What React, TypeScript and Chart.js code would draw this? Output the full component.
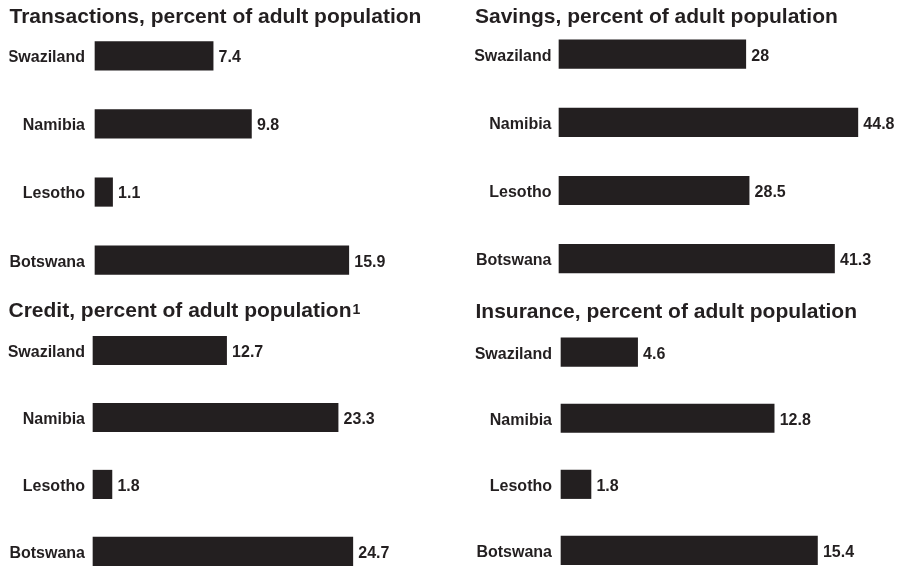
import React, { useEffect, useRef } from 'react';
import { Chart, registerables } from 'chart.js';

Chart.register(...registerables);

const countries = ['Swaziland', 'Namibia', 'Lesotho', 'Botswana'];
const transactions = [7.4, 9.8, 1.1, 15.9];
const savings = [28, 44.8, 28.5, 41.3];
const credit = [12.7, 23.3, 1.8, 24.7];
const insurance = [4.6, 12.8, 1.8, 15.4];

const titleTransactions = 'Transactions, percent of adult population';
const titleSavings = 'Savings, percent of adult population';
const titleCredit = 'Credit, percent of adult population';
const titleCreditNote = '1';
const titleInsurance = 'Insurance, percent of adult population';

const INK = '#231f20';
const FONT = "'Liberation Sans', Arial, Helvetica, sans-serif";

const valueLabels = {
  id: 'valueLabels',
  afterDatasetsDraw(chart: any) {
    const ctx = chart.ctx;
    const meta = chart.getDatasetMeta(0);
    const data = chart.data.datasets[0].data;
    ctx.save();
    ctx.font = `bold 16px ${FONT}`;
    ctx.fillStyle = INK;
    ctx.textAlign = 'left';
    ctx.textBaseline = 'middle';
    meta.data.forEach((bar: any, i: number) => {
      ctx.fillText(String(data[i]), bar.x + 5.5, bar.y + 2);
    });
    ctx.restore();
  },
};

const titleNote = {
  id: 'titleNote',
  afterDraw(chart: any, _args: any, opts: any) {
    if (!opts || !opts.text) return;
    const t = chart.titleBlock;
    const to = chart.options.plugins.title;
    const ctx = chart.ctx;
    ctx.save();
    ctx.font = `bold 21px ${FONT}`;
    const w = ctx.measureText(to.text).width;
    const lineH = 21 * 1.2;
    const mid = t.top + to.padding.top + lineH / 2;
    ctx.font = `bold 14px ${FONT}`;
    ctx.fillStyle = INK;
    ctx.textAlign = 'left';
    ctx.textBaseline = 'alphabetic';
    ctx.fillText(opts.text, t.left + w + 1, mid + 3);
    ctx.restore();
  },
};

type PanelProps = {
  left: number;
  top: number;
  width: number;
  height: number;
  title: string;
  note?: string;
  values: number[];
  xMax: number;
  padL: number;
  padR: number;
  padB: number;
  axisW: number;
  tickPad: number;
  titleTop: number;
  titleBottom: number;
};

function Panel(p: PanelProps) {
  const ref = useRef<HTMLCanvasElement>(null);
  useEffect(() => {
    const chart = new Chart(ref.current as HTMLCanvasElement, {
      type: 'bar',
      data: {
        labels: countries,
        datasets: [
          {
            data: p.values,
            backgroundColor: INK,
            borderWidth: 0,
            barThickness: 28.5,
            clip: false as any,
          },
        ],
      },
      options: {
        indexAxis: 'y',
        responsive: false,
        animation: false,
        events: [],
        layout: { padding: { left: p.padL, right: p.padR, top: 0, bottom: p.padB } },
        plugins: {
          legend: { display: false },
          tooltip: { enabled: false },
          titleNote: { text: p.note || '' },
          title: {
            display: true,
            text: p.title,
            align: 'start',
            color: INK,
            font: { family: FONT, size: 21, weight: 'bold', lineHeight: 1.2 },
            padding: { top: p.titleTop, bottom: p.titleBottom },
          },
        },
        scales: {
          x: { display: false, min: 0, max: p.xMax },
          y: {
            offset: false,
            grid: { display: false, drawTicks: false },
            border: { display: false },
            ticks: {
              color: INK,
              font: { family: FONT, size: 16, weight: 'bold' },
              padding: p.tickPad,
              labelOffset: 2,
              autoSkip: false,
            },
            afterFit: (s: any) => {
              s.width = p.axisW;
            },
          },
        },
      } as any,
      plugins: [valueLabels, titleNote],
    });
    return () => chart.destroy();
  }, []);
  return (
    <canvas
      ref={ref}
      width={p.width}
      height={p.height}
      style={{ position: 'absolute', left: p.left, top: p.top, width: p.width, height: p.height }}
    />
  );
}

export default function App() {
  return (
    <div style={{ position: 'absolute', left: 0, top: 0, width: 898, height: 569, background: '#ffffff' }}>
      <Panel left={0} top={0} width={450} height={290} title={titleTransactions} values={transactions}
        xMax={21} padL={9.5} padR={19.8} padB={29.8} axisW={85.5} tickPad={10} titleTop={5} titleBottom={25.6} />
      <Panel left={450} top={0} width={448} height={290} title={titleSavings} values={savings}
        xMax={48} padL={25} padR={18.8} padB={31.3} axisW={84} tickPad={7.5} titleTop={4.4} titleBottom={24.6} />
      <Panel left={0} top={290} width={450} height={279} title={titleCredit} note={titleCreditNote} values={credit}
        xMax={32} padL={8.5} padR={20.4} padB={14.5} axisW={84.5} tickPad={8} titleTop={8.4} titleBottom={26.9} />
      <Panel left={450} top={290} width={448} height={279} title={titleInsurance} values={insurance}
        xMax={19} padL={25.5} padR={20.6} padB={13} axisW={85.5} tickPad={9} titleTop={9.4} titleBottom={27.6} />
    </div>
  );
}
